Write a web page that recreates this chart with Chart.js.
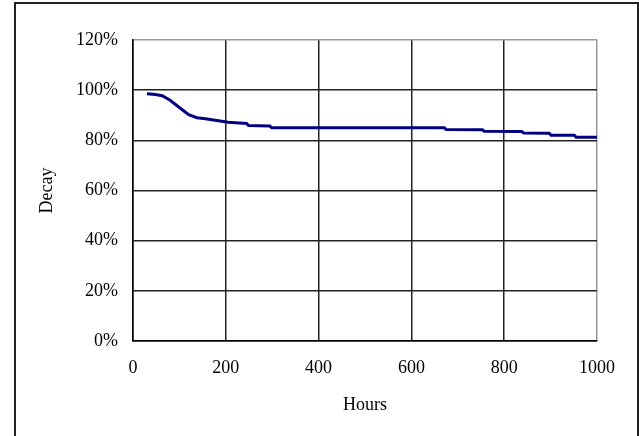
<!DOCTYPE html>
<html>
<head>
<meta charset="utf-8">
<script src="https://cdn.jsdelivr.net/npm/chart.js@4"></script>
<style>
  body { margin: 0; background: #fff; }
  #frame { position: absolute; left: 14px; top: 2px; width: 621px; height: 450px; border: 2px solid #222; }
  #canvas { position: absolute; left: 0; top: 0; }
</style>
</head>
<body>
<div id="frame"></div>
<canvas id="canvas" width="639" height="436"></canvas>
<script>
const hours = [30, 48, 63, 80, 102, 120, 138, 156, 184, 205, 245, 249, 295, 299, 671, 675, 753, 757, 838, 842, 897, 901, 951, 955, 1000];
const decay = [98.6, 98.3, 97.8, 96.0, 92.8, 90.2, 89.0, 88.6, 87.8, 87.2, 86.7, 85.9, 85.7, 85.0, 85.0, 84.3, 84.2, 83.6, 83.5, 82.9, 82.8, 82.0, 82.0, 81.2, 81.2];
const xTicks = [0, 200, 400, 600, 800, 1000];
const yTicks = [0, 20, 40, 60, 80, 100, 120];

const points = hours.map((h, i) => ({x: h, y: decay[i]}));
const font = {family: '"Liberation Serif", "Times New Roman", serif', size: 18};

function drawe(id, data_) {
  const config = {
    type: 'line',
    data: {
      datasets: [{
        label: 'Decay',
        data: data_,
        borderColor: '#000080',
        backgroundColor: '#000080',
        borderWidth: 3,
        pointRadius: 0,
        tension: 0,
        fill: false
      }]
    },
    options: {
      responsive: false,
      animation: false,
      layout: {padding: {left: 0, right: 42, top: 40, bottom: 0}},
      plugins: {legend: {display: false}, tooltip: {enabled: false}},
      scales: {
        x: {
          type: 'linear',
          min: xTicks[0], max: xTicks[xTicks.length - 1],
          afterBuildTicks: s => { s.ticks = xTicks.map(v => ({value: v})); },
          afterFit: s => { s.height = 95; },
          grid: {
            drawTicks: false,
            lineWidth: 1.5,
            color: c => c.tick && c.tick.value === 1000 ? '#999' : '#222'
          },
          border: {color: '#000', width: 1.5},
          ticks: {color: '#000', font: font, padding: 16, callback: v => String(v)},
          title: {display: true, text: 'Hours', color: '#000', font: font, padding: {top: 0, bottom: 20}}
        },
        y: {
          min: yTicks[0], max: yTicks[yTicks.length - 1],
          afterBuildTicks: s => { s.ticks = yTicks.map(v => ({value: v})); },
          afterFit: s => { s.width = 133; },
          grid: {
            drawTicks: false,
            lineWidth: 1.5,
            color: c => c.tick && c.tick.value === 120 ? '#999' : '#222'
          },
          border: {color: '#000', width: 1.5},
          ticks: {color: '#000', font: font, padding: 15, callback: v => v + '%'},
          title: {display: true, text: 'Decay', color: '#000', font: font, padding: {top: 36, bottom: 0}}
        }
      }
    }
  };
  new Chart(document.getElementById(id), config);
}

drawe('canvas', points);
</script>
</body>
</html>
